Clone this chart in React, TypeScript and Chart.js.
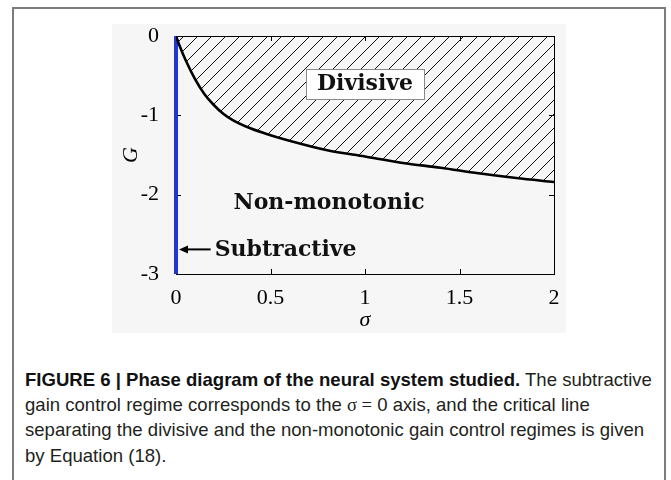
import React, { useEffect, useRef } from 'react';
import { Chart, registerables } from 'chart.js';

Chart.register(...registerables);

// ---- data ----
const sigmaValues = [0, 0.02, 0.05, 0.1, 0.15, 0.2, 0.25, 0.3, 0.4, 0.5, 0.6, 0.8, 1.0, 1.2, 1.4, 1.6, 1.8, 2.0];
const criticalG = [0, -0.13, -0.3, -0.54, -0.73, -0.87, -0.98, -1.06, -1.17, -1.25, -1.32, -1.44, -1.52, -1.6, -1.66, -1.73, -1.79, -1.84];
const subtractiveSigma = [0, 0];
const subtractiveG = [0, -3];
const xTickValues = [0, 0.5, 1, 1.5, 2];
const yTickValues = [0, -1, -2, -3];
const regionLabels = ['Divisive', 'Non-monotonic', 'Subtractive'];
const regionSigma = [1.0, 0.81, 0.58];
const regionG = [-0.6, -2.1, -2.69];

const SERIF = "'Liberation Serif', 'Times New Roman', serif";
const BOLD_SERIF = "'DejaVu Serif', serif";
const CAPTION_FONT = "'Liberation Sans Narrow', 'Arial Narrow', 'Liberation Sans', sans-serif";

function makeHatch(): CanvasPattern | string {
  const c = document.createElement('canvas');
  c.width = 14;
  c.height = 14;
  const g = c.getContext('2d');
  if (!g) return 'rgba(0,0,0,0.1)';
  g.strokeStyle = '#111';
  g.lineWidth = 1;
  g.beginPath();
  g.moveTo(-2, 2); g.lineTo(2, -2);
  g.moveTo(-2, 16); g.lineTo(16, -2);
  g.moveTo(12, 16); g.lineTo(16, 12);
  g.stroke();
  const p = g.createPattern(c, 'repeat');
  return p || 'rgba(0,0,0,0.1)';
}

const framePlugin = {
  id: 'frameTicks',
  beforeDatasetsDraw(chart: any) {
    const { ctx, chartArea: a, scales } = chart;
    const xs = scales.x;
    const ys = scales.y;
    ctx.save();
    ctx.strokeStyle = '#000';
    ctx.lineWidth = 1;
    ctx.strokeRect(Math.round(a.left) + 0.5, Math.round(a.top) + 0.5, Math.round(a.right - a.left), Math.round(a.bottom - a.top));
    const tl = 5;
    ctx.beginPath();
    xTickValues.forEach((v) => {
      const px = Math.round(xs.getPixelForValue(v)) + 0.5;
      ctx.moveTo(px, a.bottom); ctx.lineTo(px, a.bottom - tl);
      ctx.moveTo(px, a.top); ctx.lineTo(px, a.top + tl);
    });
    yTickValues.forEach((v) => {
      const py = Math.round(ys.getPixelForValue(v)) + 0.5;
      ctx.moveTo(a.left, py); ctx.lineTo(a.left + tl, py);
      ctx.moveTo(a.right, py); ctx.lineTo(a.right - tl, py);
    });
    ctx.stroke();
    ctx.restore();
  },
  afterDatasetsDraw(chart: any) {
    const { ctx, scales } = chart;
    const xs = scales.x;
    const ys = scales.y;
    ctx.save();
    ctx.font = `bold 22px ${BOLD_SERIF}`;
    ctx.textAlign = 'center';
    ctx.textBaseline = 'middle';
    regionLabels.forEach((label, i) => {
      const cx = xs.getPixelForValue(regionSigma[i]);
      const cy = ys.getPixelForValue(regionG[i]);
      const w = ctx.measureText(label).width;
      if (i === 0) {
        const bw = Math.round(w + 22);
        const bh = 30;
        const bx = Math.round(cx - bw / 2) + 0.5;
        const by = Math.round(cy - bh / 2) + 0.5;
        ctx.fillStyle = '#fff';
        ctx.fillRect(bx, by, bw, bh);
        ctx.strokeStyle = '#8a8a8a';
        ctx.lineWidth = 1;
        ctx.strokeRect(bx, by, bw, bh);
      }
      if (i === 2) {
        const x0 = xs.getPixelForValue(0) + 3;
        const x1 = cx - w / 2 - 4;
        ctx.strokeStyle = '#000';
        ctx.lineWidth = 2;
        ctx.beginPath();
        ctx.moveTo(x0 + 6, cy);
        ctx.lineTo(x1, cy);
        ctx.stroke();
        ctx.fillStyle = '#000';
        ctx.beginPath();
        ctx.moveTo(x0, cy);
        ctx.lineTo(x0 + 9, cy - 4);
        ctx.lineTo(x0 + 9, cy + 4);
        ctx.closePath();
        ctx.fill();
      }
      ctx.fillStyle = '#111';
      ctx.fillText(label, cx, cy + 1);
    });
    ctx.restore();
  },
};

function PhaseChart() {
  const ref = useRef<HTMLCanvasElement | null>(null);
  useEffect(() => {
    if (!ref.current) return;
    const hatch = makeHatch();
    const chart = new Chart(ref.current, {
      type: 'line',
      data: {
        datasets: [
          {
            data: sigmaValues.map((s, i) => ({ x: s, y: criticalG[i] })),
            borderColor: '#000',
            borderWidth: 2.6,
            pointRadius: 0,
            cubicInterpolationMode: 'monotone',
            fill: 'end',
            backgroundColor: hatch as any,
          },
          {
            data: subtractiveSigma.map((s, i) => ({ x: s, y: subtractiveG[i] })),
            borderColor: '#2236d2',
            borderWidth: 4,
            pointRadius: 0,
            fill: false,
            clip: 6,
          },
        ],
      },
      options: {
        animation: false,
        responsive: false,
        events: [],
        layout: { padding: { top: 12, right: 12, left: 0, bottom: 0 } },
        plugins: { legend: { display: false }, tooltip: { enabled: false } },
        scales: {
          x: {
            type: 'linear',
            min: 0,
            max: 2,
            afterFit: (s: any) => { s.height = 59; s.paddingLeft = 0; s.paddingRight = 0; },
            afterBuildTicks: (s: any) => { s.ticks = xTickValues.map((v) => ({ value: v })); },
            grid: { display: false, drawTicks: false },
            border: { display: false },
            ticks: { font: { family: SERIF, size: 22 }, color: '#000', padding: 11, maxRotation: 0, autoSkip: false, callback: (v: any) => String(v) },
            title: { display: true, text: 'σ', font: { family: SERIF, size: 22, style: 'italic' }, color: '#000', padding: { top: 0, bottom: 0 } },
          },
          y: {
            type: 'linear',
            min: -3,
            max: 0,
            afterFit: (s: any) => { s.width = 64; s.paddingTop = 0; s.paddingBottom = 0; },
            afterBuildTicks: (s: any) => { s.ticks = yTickValues.map((v) => ({ value: v })); },
            grid: { display: false, drawTicks: false },
            border: { display: false },
            ticks: { font: { family: SERIF, size: 22 }, color: '#000', padding: 17, autoSkip: false, callback: (v: any) => String(v) },
            title: { display: true, text: 'G', font: { family: SERIF, size: 22, style: 'italic' }, color: '#000', padding: { top: 6, bottom: 0 } },
          },
        },
      },
      plugins: [framePlugin],
    } as any);
    return () => chart.destroy();
  }, []);
  return (
    <canvas
      ref={ref}
      width={454}
      height={309}
      style={{ position: 'absolute', left: 112, top: 24, width: 454, height: 309, background: '#f6f6f6' }}
    />
  );
}

export default function App() {
  const lineStyle: React.CSSProperties = { whiteSpace: 'nowrap', height: 25.3 };
  return (
    <div style={{ position: 'fixed', left: 0, top: 0, width: 671, height: 480, overflow: 'hidden', background: '#fff' }}>
      <div style={{ position: 'absolute', left: 12, top: 7, width: 654, height: 520, border: '2px solid #7c7c7c', boxSizing: 'border-box' }} />
      <PhaseChart />
      <div
        style={{
          position: 'absolute',
          left: 25,
          top: 366.7,
          fontFamily: CAPTION_FONT,
          fontSize: 19,
          lineHeight: '25.3px',
          color: '#231f20',
          transform: 'scaleX(0.977)',
          transformOrigin: '0 0',
        }}
      >
        <div style={lineStyle}>
          <b style={{ color: '#111' }}>FIGURE 6 | Phase diagram of the neural system studied.</b> The subtractive
        </div>
        <div style={lineStyle}>
          gain control regime corresponds to the <span style={{ fontFamily: SERIF }}>σ =</span> 0 axis, and the critical line
        </div>
        <div style={lineStyle}>separating the divisive and the non-monotonic gain control regimes is given</div>
        <div style={lineStyle}>by Equation (18).</div>
      </div>
    </div>
  );
}
